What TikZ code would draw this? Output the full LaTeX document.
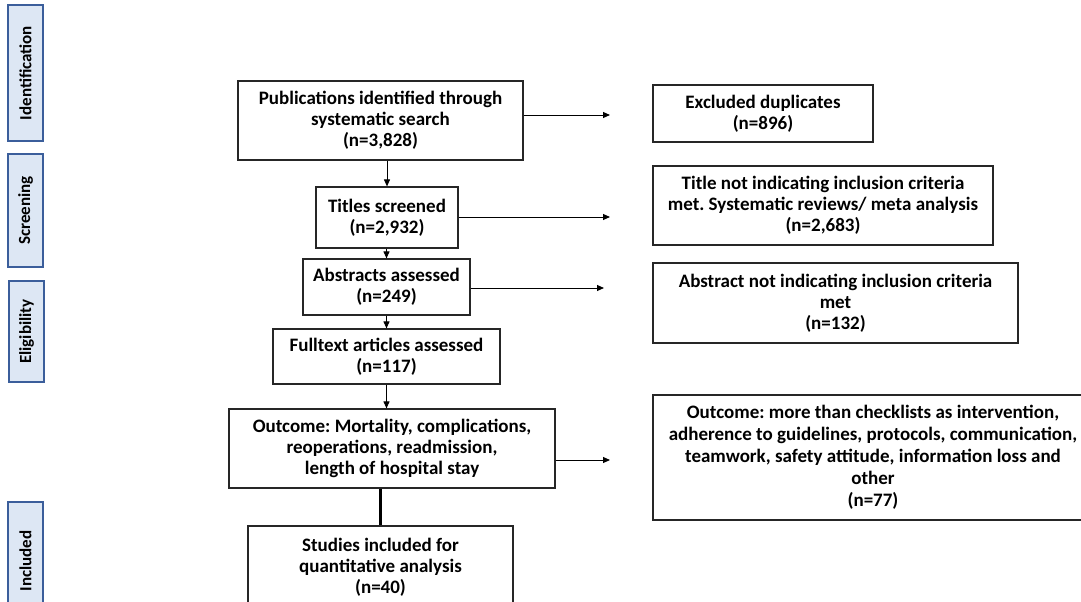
\documentclass[tikz,border=0pt]{standalone}
\usepackage{fontspec}
\setmainfont{Carlito}
\usepackage{tikz}
\usetikzlibrary{positioning,calc,arrows.meta}
\definecolor{Frame}{HTML}{262626}
\definecolor{Stage}{HTML}{3B5E9B}
\definecolor{StageLight}{HTML}{DDE7F4}
\frenchspacing

\begin{document}
\begin{tikzpicture}[
			x=1pt,y=-1pt,
			box/.style={
				draw=Frame,
				line width=1.2pt,
				align=center,
				inner sep=2pt,
				font=\fontsize{19}{21}\selectfont\bfseries
			},
			stagebar/.style={
				draw=Stage,
				fill=StageLight,
				line width=1.2pt,
				minimum width=35pt,
				font=\fontsize{17}{20}\selectfont\bfseries
			},
			arr/.style={
				draw=black,
				line width=1pt,
				-{Triangle[length=7pt,width=6pt]}
			}
			]
			
			\useasboundingbox (0,0) rectangle (1081,602);
			\clip (0,0) rectangle (1081,602);
			\fill[white] (0,0) rectangle (1081,602);
			
			% Stage bars
			\node[stagebar, minimum height=136pt] (ident) at (25.5,73)
			{\rotatebox{90}{Identification}};
			\node[stagebar, minimum height=113pt] (screen) at (25.5,210.5)
			{\rotatebox{90}{Screening}};
			\node[stagebar, minimum height=101pt] (elig) at (26.5,331.5)
			{\rotatebox{90}{Eligibility}};
			\node[stagebar, minimum height=118pt] (incl) at (25.5,561)
			{\rotatebox{90}{Included}};
			
			% Publications
			\node[box, minimum width=285pt, minimum height=79pt] (pub) at (380.5,120.5)
			{Publications identified through\\systematic search\\(n=3,828)};
			
			% Titles screened
			\node[box, minimum width=142pt, minimum height=61pt] (titles) at (387,217.5)
			{Titles screened\\(n=2,932)};
			
			% Abstracts assessed
			\node[box, minimum width=167pt, minimum height=56pt] (abstr) at (386.5,287)
			{Abstracts assessed\\(n=249)};
			
			% Fulltext articles
			\node[box, minimum width=227pt, minimum height=55pt] (full) at (386.5,356.5)
			{Fulltext articles assessed\\(n=117)};
			
			% Outcome
			\node[box, minimum width=326pt, minimum height=79pt] (outc) at (392,448.5)
			{Outcome: Mortality, complications,\\reoperations, readmission,\\length of hospital stay};
			
			% Studies included
			\node[box, minimum width=265pt, minimum height=94pt] (stud) at (380.5,573)
			{Studies included for\\quantitative analysis\\(n=40)\\[-7pt]\mbox{}};
			
			% Excluded duplicates
			\node[box, minimum width=220pt, minimum height=57pt] (dup) at (763,113.5)
			{Excluded duplicates\\(n=896)};
			
			% Title not indicating
			\node[box, minimum width=340pt, minimum height=79pt] (notitle) at (823,205.5)
			{Title not indicating inclusion criteria\\met. Systematic reviews/ meta analysis\\(n=2,683)};
			
			% Abstract not indicating
			\node[box, minimum width=365pt, minimum height=80pt] (noabstr) at (835.5,303)
			{Abstract not indicating inclusion criteria\\met\\(n=132)};
			
			% Outcome more than checklists
			\node[box, minimum width=440pt, minimum height=125pt,
			font=\fontsize{19}{22}\selectfont\bfseries] (other) at (873,457.5)
			{Outcome: more than checklists as intervention,\\adherence to guidelines, protocols, communication,\\teamwork, safety attitude, information loss and\\other\\(n=77)};
			
			% Arrow ends
			\coordinate (e1) at (610,115);
			\coordinate (e2) at (610,217);
			\coordinate (e3) at (604,288);
			\coordinate (e4) at (610,460);
			
			\draw[arr] (pub.east |- e1) -- (e1);
			\draw[arr] (titles.east |- e2) -- (e2);
			\draw[arr] (abstr.east |- e3) -- (e3);
			\draw[arr] (outc.east |- e4) -- (e4);
			
			\draw[arr] (titles.north |- pub.south) -- (titles.north);
			\draw[arr] (titles.south -| abstr.north) -- (abstr.north);
			\draw[arr] (abstr.south) -- (abstr.south |- full.north);
			\draw[arr] (full.south) -- (full.south |- outc.north);
			\draw[line width=3pt] (stud.north |- outc.south) -- (stud.north);
			
		\end{tikzpicture}
\end{document}
